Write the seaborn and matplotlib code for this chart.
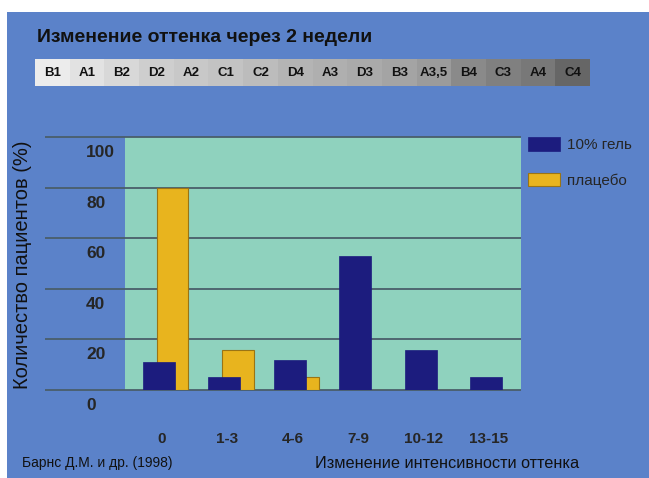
import matplotlib
matplotlib.use("Agg")
import matplotlib.pyplot as plt
import matplotlib.transforms as mtransforms
from matplotlib.patches import Rectangle
import numpy as np
import pandas as pd
import seaborn as sns

# ---- data ----
categories = ["0", "1-3", "4-6", "7-9", "10-12", "13-15"]
gel_values = [11, 5, 12, 53, 16, 5]
placebo_values = [80, 16, 5, 0, 0, 0]
y_ticks = [0, 20, 40, 60, 80, 100]
shade_labels = ["B1", "A1", "B2", "D2", "A2", "C1", "C2", "D4", "A3", "D3",
                "B3", "A3,5", "B4", "C3", "A4", "C4"]
shade_greys = [236, 226, 216, 206, 200, 195, 188, 180, 175, 170, 164, 155,
               138, 128, 120, 102]
series_names = ["10% гель", "плацебо"]
title_text = "Изменение оттенка через 2 недели"
ylabel_text = "Количество пациентов (%)"
xlabel_text = "Изменение интенсивности оттенка"
source_text = "Барнс Д.М. и др. (1998)"

# ---- style ----
BG = "#5b82c9"
TEAL = "#8fd2be"
NAVY = "#1c1c7e"
YELLOW = "#e8b41e"
YEDGE = "#9a7414"
GRID = "#4a5e6a"

sns.set_style("white")
plt.rcParams["font.family"] = ["Liberation Sans", "DejaVu Sans"]

W, H = 649, 478
fig = plt.figure(figsize=(W / 100, H / 100), dpi=100, facecolor="white")
fig.patches.append(Rectangle((7 / W, 0), 1 - 7 / W, 1 - 12 / H,
                             transform=fig.transFigure, facecolor=BG,
                             edgecolor="none", zorder=-10))

ax = fig.add_axes([125 / W, (H - 390) / H, 396 / W, (390 - 137.3) / H])
ax.set_facecolor(TEAL)

idx = np.arange(len(categories))
off = 0.103
df_p = pd.DataFrame({"pos": idx + off, "val": placebo_values})
df_g = pd.DataFrame({"pos": idx - off, "val": gel_values})

sns.barplot(data=df_p, x="pos", y="val", native_scale=True, width=0.48,
            color=YELLOW, saturation=1, edgecolor=YEDGE, linewidth=0.8,
            errorbar=None, label=series_names[1], ax=ax, zorder=2)
sns.barplot(data=df_g, x="pos", y="val", native_scale=True, width=0.49,
            color=NAVY, saturation=1, edgecolor=NAVY, linewidth=0.5,
            errorbar=None, label=series_names[0], ax=ax, zorder=3)

ax.set_xlim(-0.623, 5.432)
ax.set_ylim(0, 100)
for s in ax.spines.values():
    s.set_visible(False)

# gridlines extending left into the background
ax.hlines(y_ticks, -0.202, 1.0, transform=ax.get_yaxis_transform(),
          colors=GRID, linewidth=1.3, clip_on=False, zorder=1)

# y tick labels (left aligned, below the lines)
ax.set_yticks(y_ticks)
ax.set_yticklabels([str(v) for v in y_ticks])
ax.tick_params(axis="y", length=0, pad=28, labelsize=12.5)
dy = mtransforms.ScaledTranslation(0, -14 / 100, fig.dpi_scale_trans)
for lab in ax.get_yticklabels():
    lab.set_ha("left")
    lab.set_fontweight("bold")
    lab.set_transform(lab.get_transform() + dy)

# x tick labels
ax.set_xticks(idx - 0.06)
ax.set_xticklabels(categories)
ax.tick_params(axis="x", length=0, pad=30, labelsize=11)
for lab in ax.get_xticklabels():
    lab.set_fontweight("bold")

ax.set_ylabel(ylabel_text, fontsize=14.5, color="#111111", va="center")
ax.yaxis.set_label_coords((23 - 125) / 396, (390 - 265) / 252.7)
ax.set_xlabel(xlabel_text, fontsize=11.7, color="#111111", va="center")
ax.xaxis.set_label_coords((447 - 125) / 396, (390 - 463) / 252.7)

# legend
h, l = ax.get_legend_handles_labels()
order = [l.index(series_names[0]), l.index(series_names[1])]
ax.legend([h[i] for i in order], [l[i] for i in order], loc="upper left",
          bbox_to_anchor=(528 / W, 1 - 137 / H), bbox_transform=fig.transFigure,
          frameon=False, fontsize=11, handlelength=2.1, handleheight=1.0,
          handletextpad=0.46, labelspacing=1.35, borderpad=0, borderaxespad=0)

# title and source
fig.text(37 / W, 1 - 38 / H, title_text, fontsize=14, ha="left", va="center",
         color="#111111", fontweight="bold")
fig.text(22 / W, 1 - 463 / H, source_text, fontsize=10, ha="left",
         va="center", color="#111111")

# shade strip
sax = fig.add_axes([35 / W, (H - 86) / H, 555 / W, 27 / H])
sns.heatmap([shade_greys], ax=sax, cmap="gray", vmin=0, vmax=255,
            annot=[shade_labels], fmt="", cbar=False,
            xticklabels=False, yticklabels=False,
            annot_kws=dict(color="#111111", fontweight="bold", fontsize=9.5))

fig.savefig("out.png", dpi=100, facecolor="white")
